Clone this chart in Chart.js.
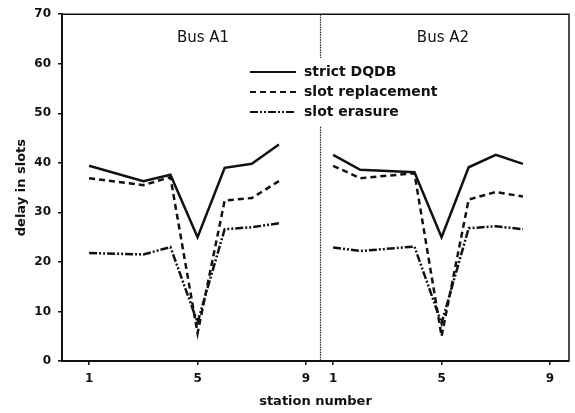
<!DOCTYPE html>
<html>
<head>
<meta charset="utf-8">
<script src="https://cdn.jsdelivr.net/npm/chart.js@4.4.1/dist/chart.umd.min.js"></script>
<style>
  html, body { margin: 0; padding: 0; background: #fff; }
  #chart { display: block; }
</style>
</head>
<body>
<canvas id="chart" width="575" height="413"></canvas>
<script>
// stations where each line has a vertex
const stationsA1 = [1, 3, 4, 5, 6, 7, 8];
const stationsA2 = [1, 2, 4, 5, 6, 7, 8];

const strictA1  = [39.4, 36.3, 37.6, 25.0, 39.0, 39.8, 43.7];
const replaceA1 = [36.9, 35.5, 37.1, 5.6, 32.4, 32.9, 36.3];
const erasureA1 = [21.8, 21.5, 23.0, 7.8, 26.6, 27.0, 27.8];

const strictA2  = [41.6, 38.6, 38.1, 25.0, 39.1, 41.6, 39.8];
const replaceA2 = [39.4, 36.9, 37.9, 5.0, 32.6, 34.1, 33.2];
const erasureA2 = [22.9, 22.2, 23.1, 7.6, 26.8, 27.2, 26.6];

const stationTicks = [1, 5, 9];
const busLabels = ['Bus A1', 'Bus A2'];
const seriesLabels = ['strict DQDB', 'slot replacement', 'slot erasure'];

// second bus panel sits 9 units to the right on the shared x axis
const A2_OFFSET = 9;
const SPLIT = 9.5;

const dashes = [[], [6, 4], [8, 2, 2, 2, 2, 2]];

function joinBuses(a1, a2) {
    const pts = stationsA1.map((s, i) => ({ x: s, y: a1[i] }));
    pts.push({ x: SPLIT, y: null });
    stationsA2.forEach((s, i) => pts.push({ x: s + A2_OFFSET, y: a2[i] }));
    return pts;
}

const series = [
    joinBuses(strictA1, strictA2),
    joinBuses(replaceA1, replaceA2),
    joinBuses(erasureA1, erasureA2)
];

const datasets = series.map((pts, i) => ({
    label: seriesLabels[i],
    data: pts,
    borderColor: '#111',
    borderWidth: 2.5,
    borderDash: dashes[i],
    pointRadius: 0,
    tension: 0,
    spanGaps: false
}));

// frame, split line, bus titles and legend
const decorations = {
    id: 'decorations',
    afterDatasetsDraw(chart) {
        const { ctx, chartArea: a, scales: { x } } = chart;
        ctx.save();

        // top and right frame
        ctx.strokeStyle = '#111';
        ctx.lineWidth = 1.5;
        ctx.beginPath();
        ctx.moveTo(a.left, a.top);
        ctx.lineTo(a.right, a.top);
        ctx.lineTo(a.right, a.bottom);
        ctx.stroke();

        // dotted divider between buses
        const dx = Math.round(x.getPixelForValue(SPLIT)) + 0.5;
        ctx.strokeStyle = '#222';
        ctx.lineWidth = 1.2;
        ctx.setLineDash([1.5, 1]);
        ctx.beginPath();
        ctx.moveTo(dx, a.top);
        ctx.lineTo(dx, a.bottom);
        ctx.stroke();
        ctx.setLineDash([]);

        // bus titles
        ctx.fillStyle = '#111';
        ctx.font = '15px "DejaVu Sans"';
        ctx.textAlign = 'center';
        ctx.textBaseline = 'middle';
        ctx.fillText(busLabels[0], x.getPixelForValue(5.2), 38);
        ctx.fillText(busLabels[1], x.getPixelForValue(14.05), 38);

        // legend with white backing
        ctx.fillStyle = '#fff';
        ctx.fillRect(246, 58, 196, 68);
        ctx.font = 'bold 14px "DejaVu Sans"';
        ctx.textAlign = 'left';
        seriesLabels.forEach((lab, i) => {
            const y = 72 + i * 20;
            ctx.strokeStyle = '#111';
            ctx.lineWidth = 2.2;
            ctx.setLineDash(dashes[i]);
            ctx.beginPath();
            ctx.moveTo(250, y);
            ctx.lineTo(296, y);
            ctx.stroke();
            ctx.setLineDash([]);
            ctx.fillStyle = '#111';
            ctx.fillText(lab, 304, y);
        });

        ctx.restore();
    }
};

new Chart(document.getElementById('chart'), {
    type: 'line',
    data: { datasets },
    plugins: [decorations],
    options: {
        responsive: false,
        animation: false,
        devicePixelRatio: 1,
        layout: { padding: { left: 0, top: 13, right: 6, bottom: 0 } },
        plugins: {
            legend: { display: false },
            tooltip: { enabled: false }
        },
        scales: {
            x: {
                type: 'linear',
                min: 0,
                max: 18.7,
                afterFit(scale) { scale.height = 52; },
                afterBuildTicks(scale) {
                    const ticks = stationTicks.map(v => ({ value: v }));
                    stationTicks.forEach(v => ticks.push({ value: v + A2_OFFSET }));
                    scale.ticks = ticks;
                },
                grid: { drawOnChartArea: false, drawTicks: true, tickLength: 4, color: '#111', lineWidth: 1.5 },
                border: { color: '#111', width: 2 },
                ticks: {
                    autoSkip: false,
                    maxRotation: 0,
                    padding: 7,
                    color: '#111',
                    font: { family: 'DejaVu Sans', size: 12, weight: 'bold' },
                    callback: v => (v > SPLIT ? v - A2_OFFSET : v)
                },
                title: {
                    display: true,
                    text: 'station number',
                    color: '#111',
                    font: { family: 'DejaVu Sans', size: 13, weight: 'bold' },
                    padding: { top: 0, bottom: 4 }
                }
            },
            y: {
                min: 0,
                max: 70,
                afterFit(scale) { scale.width = 62; },
                grid: { drawOnChartArea: false, drawTicks: true, tickLength: 4, color: '#111', lineWidth: 1.5 },
                border: { color: '#111', width: 2 },
                ticks: {
                    stepSize: 10,
                    padding: 7,
                    color: '#111',
                    font: { family: 'DejaVu Sans', size: 12, weight: 'bold' }
                },
                title: {
                    display: true,
                    text: 'delay in slots',
                    color: '#111',
                    font: { family: 'DejaVu Sans', size: 13, weight: 'bold' },
                    padding: { top: 14, bottom: 0 }
                }
            }
        }
    }
});
</script>
</body>
</html>
